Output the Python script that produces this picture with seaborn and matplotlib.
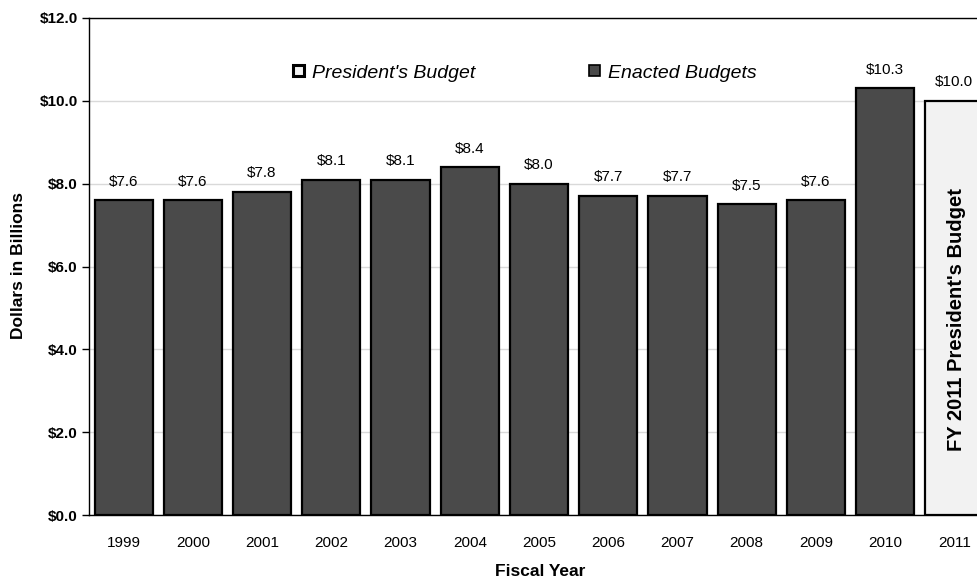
import matplotlib
matplotlib.use("Agg")
import matplotlib.pyplot as plt
import seaborn as sns
import pandas as pd
from matplotlib.patches import Patch

years = ["1999", "2000", "2001", "2002", "2003", "2004", "2005", "2006",
         "2007", "2008", "2009", "2010", "2011"]
values = [7.6, 7.6, 7.8, 8.1, 8.1, 8.4, 8.0, 7.7, 7.7, 7.5, 7.6, 10.3, 10.0]
kinds = ["Enacted Budgets"] * 12 + ["President's Budget"]
value_labels = ["$7.6", "$7.6", "$7.8", "$8.1", "$8.1", "$8.4", "$8.0", "$7.7",
                "$7.7", "$7.5", "$7.6", "$10.3", "$10.0"]
y_ticks = [0, 2, 4, 6, 8, 10, 12]
y_tick_labels = ["$0.0", "$2.0", "$4.0", "$6.0", "$8.0", "$10.0", "$12.0"]

sns.set_style("white")
plt.rcParams["font.family"] = ["Liberation Sans", "DejaVu Sans"]
plt.rcParams["text.color"] = "black"
plt.rcParams["axes.labelcolor"] = "black"
plt.rcParams["xtick.color"] = "black"
plt.rcParams["ytick.color"] = "black"

df = pd.DataFrame({"year": years, "value": values, "kind": kinds})
palette = {"Enacted Budgets": "#4a4a4a", "President's Budget": "#f2f2f2"}

W, H = 977, 580
AX_L, AX_R, AX_T, AX_B = 89, 989, 18, 515
fig = plt.figure(figsize=(W / 100, H / 100), dpi=100)
ax = fig.add_axes([AX_L / W, 1 - AX_B / H, (AX_R - AX_L) / W, (AX_B - AX_T) / H])

sns.barplot(data=df, x="year", y="value", hue="kind", palette=palette,
            dodge=False, width=0.84, edgecolor="black", linewidth=1.6,
            legend=False, ax=ax, zorder=3)

ax.set_ylim(0, 12)
ax.set_xlim(-0.5, len(years) - 0.5)
ax.set_yticks(y_ticks)
ax.set_yticklabels(y_tick_labels, fontsize=11, fontweight="bold")
ax.yaxis.grid(True, color="#d9d9d9", linewidth=1, zorder=0)
ax.set_axisbelow(True)

ax.set_xticks(range(len(years)))
ax.set_xticklabels(years, fontsize=11)
ax.tick_params(axis="x", length=0, pad=15)
ax.set_xticks([i + 0.5 for i in range(-1, len(years))], minor=True)
ax.tick_params(axis="x", which="minor", length=5, width=1, color="black", direction="out")
ax.tick_params(axis="y", length=5, width=1, color="black", direction="out", left=True, pad=3)

for s in ["left", "top", "bottom"]:
    ax.spines[s].set_visible(True)
    ax.spines[s].set_color("black")
    ax.spines[s].set_linewidth(1)
ax.spines["right"].set_visible(False)

axh = AX_B - AX_T
axw = AX_R - AX_L
ax.set_xlabel("Fiscal Year", fontsize=12.5, fontweight="bold")
ax.xaxis.set_label_coords((540 - AX_L) / axw, (AX_B - 564) / axh)
ax.set_ylabel("Dollars in Billions", fontsize=12.5, fontweight="bold")
ax.yaxis.set_label_coords((26 - AX_L) / axw, (AX_B - 265) / axh)

# value labels
bars = [p for p in ax.patches if p.get_height() > 0]
bars.sort(key=lambda p: p.get_x())
for p, lab in zip(bars, value_labels):
    ax.text(p.get_x() + p.get_width() / 2, p.get_height() + 0.28, lab,
            ha="center", va="bottom", fontsize=11)

# rotated text in 2011 bar
last = bars[-1]
ax.text(last.get_x() + last.get_width() / 2 + 0.03, 4.72, "FY 2011 President's Budget",
        rotation=90, ha="center", va="center", fontsize=14.5, fontweight="bold")

leg_style = dict(frameon=False, handlelength=0.55, handleheight=0.55,
                 handletextpad=0.45, borderpad=0, borderaxespad=0,
                 loc="center left", prop={"style": "italic", "size": 14})
leg_y = (AX_B - 73) / axh
leg1 = ax.legend(handles=[Patch(facecolor="#f2f2f2", edgecolor="black", linewidth=2.2,
                                label="President's Budget")],
                 bbox_to_anchor=((293 - AX_L) / axw, leg_y), **leg_style)
ax.add_artist(leg1)
ax.legend(handles=[Patch(facecolor="#4a4a4a", edgecolor="black", linewidth=1.2,
                         label="Enacted Budgets")],
          bbox_to_anchor=((589 - AX_L) / axw, leg_y), **leg_style)

fig.savefig("out.png", dpi=100)
